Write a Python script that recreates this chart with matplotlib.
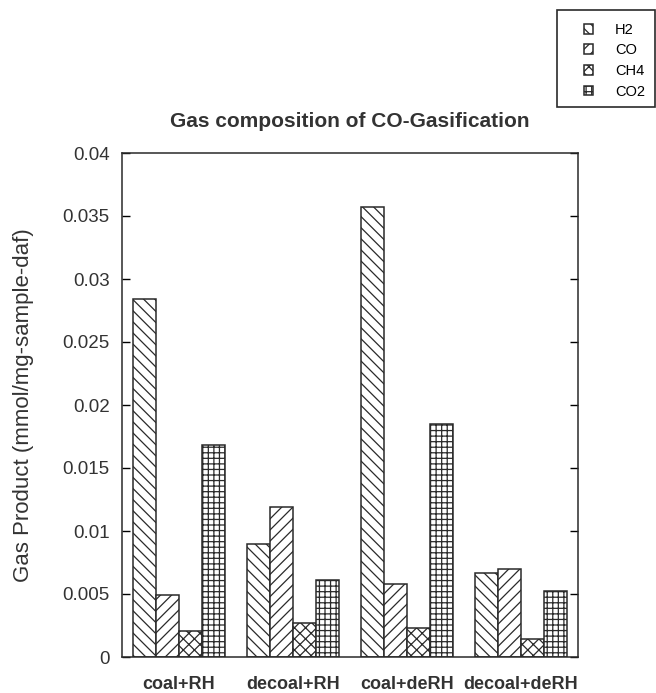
import matplotlib.pyplot as plt
import numpy as np
from matplotlib.patches import Rectangle

plt.rcParams.update({
    "font.family": ["Liberation Sans", "DejaVu Sans"],
    "hatch.linewidth": 0.9,
})

categories = ["coal+RH", "decoal+RH", "coal+deRH", "decoal+deRH"]
gases = ["H2", "CO", "CH4", "CO2"]
h2 = [0.0284, 0.0090, 0.0357, 0.0067]
co = [0.0049, 0.0119, 0.0058, 0.0070]
ch4 = [0.0021, 0.0027, 0.0023, 0.0014]
co2 = [0.0168, 0.0061, 0.0185, 0.0052]
yticks = [0, 0.005, 0.01, 0.015, 0.02, 0.025, 0.03, 0.035, 0.04]
ytick_labels = ["0", "0.005", "0.01", "0.015", "0.02", "0.025", "0.03", "0.035", "0.04"]

hatches = ["\\\\\\", "///", "xxx", "+++"]
ink = "#2a2a2a"

W, H = 656, 693
fig = plt.figure(figsize=(W / 100, H / 100), dpi=100)
ax = fig.add_axes([122 / W, 1 - 657 / H, 456 / W, 504 / H])

x = np.arange(len(categories))
w = 0.2
for i, (vals, name) in enumerate(zip([h2, co, ch4, co2], gases)):
    ax.bar(x - 0.3 + i * w, vals, width=w, facecolor="white", edgecolor=ink,
           hatch=hatches[i], linewidth=1.1, label=name)

ax.set_xlim(-0.5, 3.5)
ax.set_ylim(0, 0.04)
ax.set_yticks(yticks, ytick_labels, fontsize=13.5, color="#333333")
ax.tick_params(axis="y", direction="in", length=6, right=True, width=1.0, pad=9)
ax.set_xticks(x, categories, fontsize=13, fontweight="bold", color="#333333")
ax.tick_params(axis="x", length=0, pad=14)
for s in ax.spines.values():
    s.set_linewidth(1.1)
    s.set_color(ink)

ax.set_ylabel("Gas Product (mmol/mg-sample-daf)", fontsize=16, color="#333333", labelpad=20)
ax.set_title("Gas composition of CO-Gasification", fontsize=15, fontweight="bold",
             color="#333333", pad=19)

# legend in the top right corner, frame drawn separately
handles, labels = ax.get_legend_handles_labels()
fig.legend(handles, labels, loc="upper left", bbox_to_anchor=(578 / W, 1 - 17 / H),
           fontsize=10.5, frameon=False,
           handlelength=0.65, handleheight=0.65, handletextpad=1.5,
           labelspacing=0.45, borderpad=0.4, borderaxespad=0)
fig.patches.append(Rectangle((557 / W, 1 - 107 / H), 98 / W, 97 / H, transform=fig.transFigure,
                             facecolor="none", edgecolor=ink, linewidth=1.2))

fig.savefig("out.png", dpi=100)
